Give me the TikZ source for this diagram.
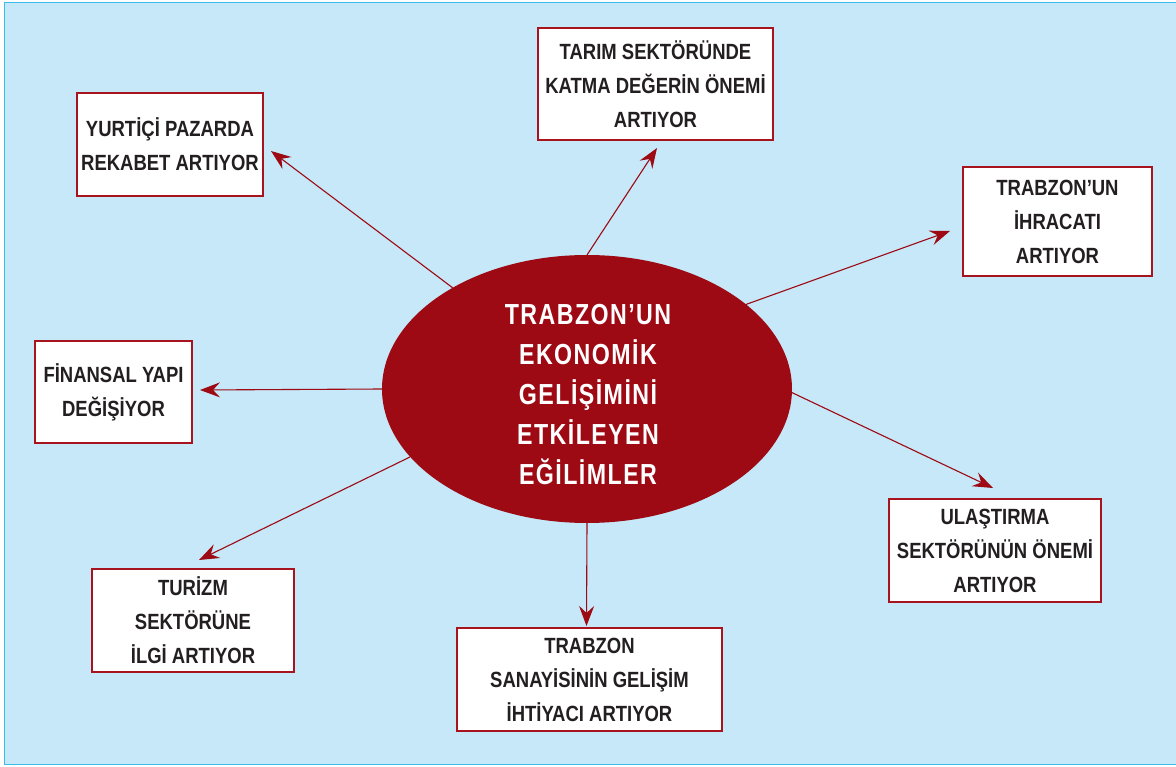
\documentclass[tikz,border=0pt]{standalone}
\usepackage{fontspec}
\usetikzlibrary{arrows.meta,shapes.geometric}
\newfontfamily\boxfont[FakeStretch=0.84]{Liberation Sans}
\newfontfamily\ellfont[FakeStretch=0.8,LetterSpace=5]{Liberation Sans}
\definecolor{bgblue}{HTML}{C6E8F8}
\definecolor{frameblue}{HTML}{3DBBEA}
\definecolor{darkred}{HTML}{9D0A13}
\definecolor{boxred}{HTML}{A8141E}
\definecolor{txt}{HTML}{231F20}
\tikzset{
  box/.style={draw=boxred, line width=1.3pt, fill=white, rectangle, inner sep=0pt, outer sep=0pt, align=center, text=txt,
    font=\boxfont\bfseries\fontsize{22}{34}\selectfont},
  ell/.style={ellipse, fill=darkred, inner sep=0pt, outer sep=0pt, minimum width=410pt, minimum height=268pt},
  elltext/.style={align=center, text=white, inner sep=0pt,
    font=\ellfont\bfseries\fontsize{29}{40}\selectfont},
  conn/.style={draw=darkred, line width=1.1pt, -{Stealth[length=20pt, width=15pt, inset=7pt]}}
}
\begin{document}
\begin{tikzpicture}[x=1pt,y=-1pt]
\useasboundingbox (0,0) rectangle (1176,767);
\fill[white] (0,0) rectangle (1176,767);
\draw[fill=bgblue, draw=frameblue, line width=1.6pt] (4.5,2.5) rectangle (1190,764.5);

\node[ell] (ell) at (587,389) {};
\node[elltext] (ellt) at (588,395) {TRABZON’UN\\EKONOMİK\\GELİŞİMİNİ\\ETKİLEYEN\\EĞİLİMLER};

\node[box, minimum width=186pt, minimum height=103pt] (yurt) at (170,144.5) {YURTİÇİ PAZARDA\\REKABET ARTIYOR};
\node[box, minimum width=235pt, minimum height=112pt] (tarim) at (655.5,84) {TARIM SEKTÖRÜNDE\\KATMA DEĞERİN ÖNEMİ\\ARTIYOR};
\node[box, minimum width=189pt, minimum height=109pt] (ihr) at (1057.5,221.5) {TRABZON’UN\\İHRACATI\\ARTIYOR};
\node[box, minimum width=157pt, minimum height=102pt] (fin) at (113.5,392) {FİNANSAL YAPI\\DEĞİŞİYOR};
\node[box, minimum width=212pt, minimum height=103pt] (ulas) at (995,550.5) {ULAŞTIRMA\\SEKTÖRÜNÜN ÖNEMİ\\ARTIYOR};
\node[box, minimum width=202pt, minimum height=103pt] (tur) at (193,620.5) {TURİZM\\SEKTÖRÜNE\\İLGİ ARTIYOR};
\node[box, minimum width=265pt, minimum height=103pt] (san) at (589.5,679.5) {TRABZON\\SANAYİSİNİN GELİŞİM\\İHTİYACI ARTIYOR};

\coordinate (tYurt) at (271,151);
\coordinate (tTarim) at (657,148);
\coordinate (tIhr) at (950,231);
\coordinate (tFin) at (200,390);
\coordinate (tUlas) at (993,488);
\coordinate (tTur) at (199,560);
\coordinate (tSan) at (586.5,626);

\draw[conn] (ell.143.6) -- (tYurt);
\draw[conn] (ell.90) -- (tTarim);
\draw[conn] (ell.28.3) -- (tIhr);
\draw[conn] (ell.180) -- (tFin);
\draw[conn] (ell.-1) -- (tUlas);
\draw[conn] (ell.201.6) -- (tTur);
\draw[conn] (ell.270) -- (tSan);
\end{tikzpicture}
\end{document}
